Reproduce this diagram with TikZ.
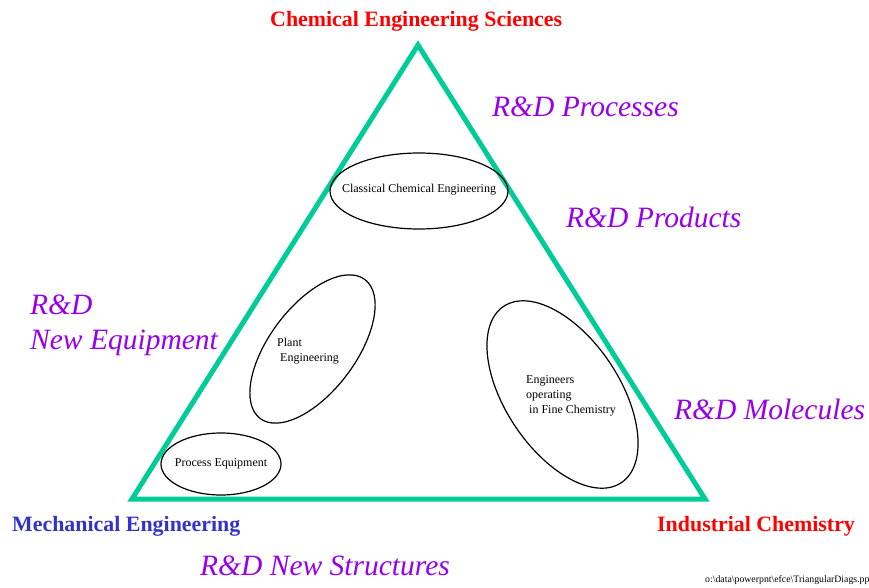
\documentclass[tikz,border=0pt]{standalone}
\usepackage{fontspec}
\setmainfont{Liberation Serif}
\usetikzlibrary{shapes.geometric}
\definecolor{tealc}{RGB}{0,204,153}
\definecolor{purp}{RGB}{150,0,235}
\definecolor{blu}{RGB}{51,51,204}
\definecolor{redc}{RGB}{255,0,0}
\tikzset{
  bigbold/.style={font=\fontsize{21.9}{24}\selectfont\bfseries, inner sep=0pt, anchor=base west},
  rnd/.style={font=\fontsize{29.5}{32}\selectfont\itshape, text=purp, inner sep=0pt, anchor=base west},
  small/.style={font=\fontsize{12}{15}\selectfont, inner sep=0pt},
  oval/.style={draw=black, ellipse, line width=1.2pt, inner sep=0pt}
}
\begin{document}
\begin{tikzpicture}[x=1pt,y=1pt]
\useasboundingbox[fill=white] (0,0) rectangle (869,-588);
% triangle
\coordinate (top) at (418,-45);
\coordinate (bl) at (132,-499);
\coordinate (br) at (705,-499);
\draw[tealc, line width=5pt, line join=miter] (top) -- (br) -- (bl) -- cycle;
% ellipses
\node[oval, minimum width=178pt, minimum height=76pt] (cce) at (419,-191) {};
\node[small] (ccet) at (419,-190) {Classical Chemical Engineering};
\node[oval, minimum width=174pt, minimum height=86pt, rotate=53] (pe) at (312.5,-349) {};
\node[small, anchor=base west, align=left] (pet) at (277,-361) {Plant\\\hspace*{3pt}Engineering};
\node[oval, minimum width=212pt, minimum height=114pt, rotate=-56.3] (fc) at (562.5,-394.5) {};
\node[small, anchor=base west, align=left] (fct) at (526,-413) {Engineers\\operating\\\hspace*{3pt}in Fine Chemistry};
\node[oval, minimum width=120pt, minimum height=62pt] (peq) at (221,-464) {};
\node[small] (peqt) at (221,-464) {Process Equipment};
% corner labels
\node[bigbold, text=redc] (ces) at (270,-27) {Chemical Engineering Sciences};
\node[bigbold, text=blu] (me) at (12,-531) {Mechanical Engineering};
\node[bigbold, text=redc] (ic) at (657,-531) {Industrial Chemistry};
% R&D labels
\node[rnd] (rp) at (492,-117) {R\&D Processes};
\node[rnd] (rpr) at (566,-227) {R\&D Products};
\node[rnd] (rne1) at (30,-314) {R\&D};
\node[rnd] (rne2) at (30,-349) {New Equipment};
\node[rnd] (rm) at (674,-419) {R\&D Molecules};
\node[rnd] (rns) at (200,-575) {R\&D New Structures};
% footer
\node[font=\fontsize{9.8}{11}\selectfont, inner sep=0pt, anchor=base west] (foot) at (705,-582) {o:\textbackslash data\textbackslash powerpnt\textbackslash efce\textbackslash TriangularDiags.pp};
\end{tikzpicture}
\end{document}
